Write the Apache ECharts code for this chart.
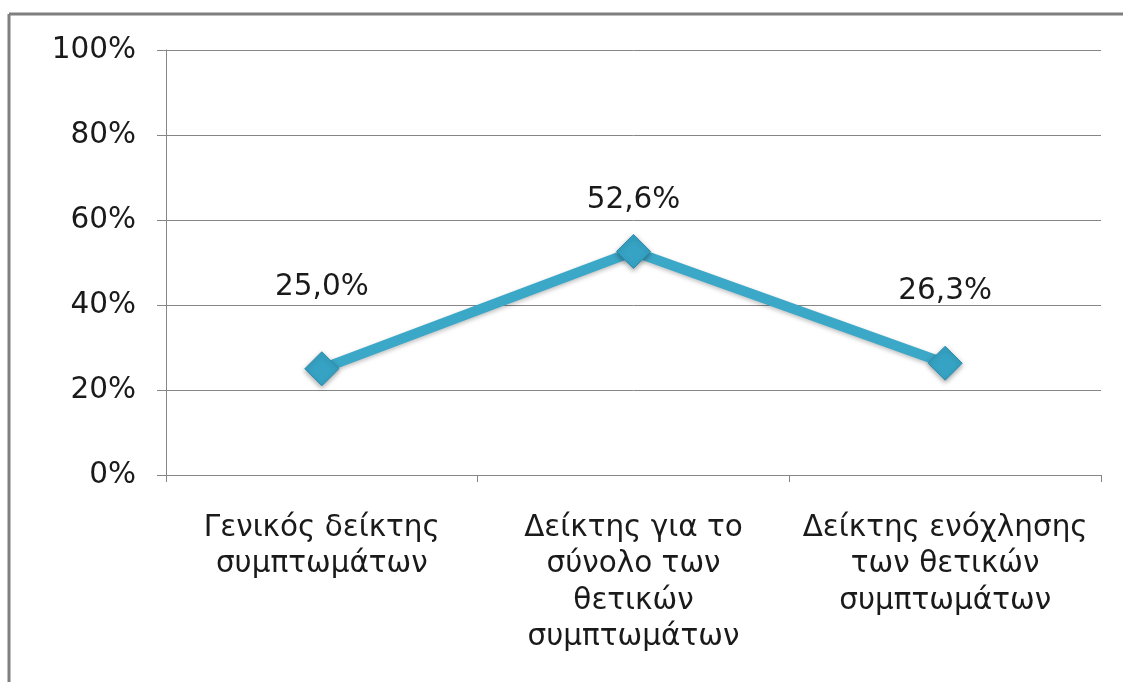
<!DOCTYPE html>
<html>
<head>
<meta charset="utf-8">
<script src="https://cdn.jsdelivr.net/npm/echarts@6/dist/echarts.min.js"></script>
<style>
html,body{margin:0;padding:0;background:#fff;}
#chart{width:1123px;height:682px;}
</style>
</head>
<body>
<div id="chart"></div>
<script>
var categories = [
  "Γενικός δείκτης\nσυμπτωμάτων",
  "Δείκτης για το\nσύνολο των\nθετικών\nσυμπτωμάτων",
  "Δείκτης ενόχλησης\nτων θετικών\nσυμπτωμάτων"
];
var values = [25.0, 52.6, 26.3];
var yTicks = [0, 20, 40, 60, 80, 100];

var labelDistances = [49, 19, 39];
var FONT = "DejaVu Sans";

var chart = echarts.init(document.getElementById('chart'), null, {renderer: 'canvas'});
var option = {
  backgroundColor: '#ffffff',
  animation: false,
  textStyle: {fontFamily: FONT},
  grid: {left: 166, right: 22, top: 50, bottom: 207, containLabel: false},
  graphic: [
    {type: 'line', shape: {x1: 9, y1: 14, x2: 1123, y2: 14}, style: {stroke: '#7f7f7f', lineWidth: 3}},
    {type: 'line', shape: {x1: 9, y1: 14, x2: 9, y2: 682}, style: {stroke: '#7f7f7f', lineWidth: 3}}
  ],
  xAxis: {
    type: 'category',
    data: categories,
    boundaryGap: true,
    axisLine: {lineStyle: {color: '#868686', width: 1}},
    axisTick: {show: true, length: 7, alignWithLabel: false, lineStyle: {color: '#868686'}},
    axisLabel: {
      interval: 0, margin: 35, color: '#1a1a1a', fontFamily: FONT, fontSize: 29.5,
      lineHeight: 36.5, align: 'center', verticalAlign: 'top'
    },
    splitLine: {show: false}
  },
  yAxis: {
    type: 'value',
    min: yTicks[0], max: yTicks[yTicks.length - 1], interval: 20,
    axisLine: {show: true, lineStyle: {color: '#868686', width: 1}},
    axisTick: {show: true, length: 9, lineStyle: {color: '#868686'}},
    axisLabel: {margin: 30, color: '#1a1a1a', fontFamily: FONT, fontSize: 29.5, formatter: '{value}%'},
    splitLine: {show: true, lineStyle: {color: '#868686', width: 1}}
  },
  series: [{
    type: 'line',
    data: values.map(function (v, i) {
      return {value: v, label: {distance: labelDistances[i]}};
    }),
    lineStyle: {color: '#3CA8C8', width: 10, shadowColor: 'rgba(0,0,0,0.25)', shadowBlur: 4, shadowOffsetY: 2},
    symbol: 'diamond',
    symbolSize: 34,
    itemStyle: {color: '#36A3C4', borderColor: '#2B8DAD', borderWidth: 1, shadowColor: 'rgba(0,0,0,0.35)', shadowBlur: 5, shadowOffsetY: 2},
    label: {
      show: true, position: 'top', color: '#1a1a1a', fontFamily: FONT, fontSize: 29.5,
      formatter: function (p) { return p.value.toFixed(1).replace('.', ',') + '%'; }
    },
    z: 3
  }]
};
chart.setOption(option);
</script>
</body>
</html>
